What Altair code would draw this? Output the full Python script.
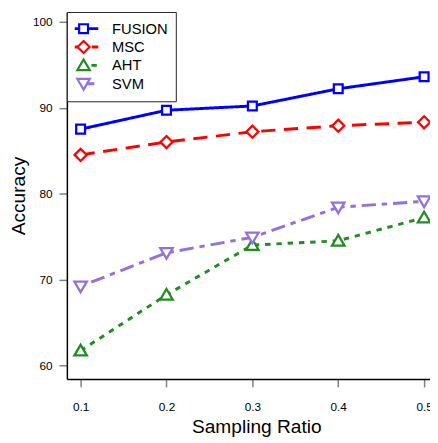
import altair as alt
import pandas as pd

ratios = [0.1, 0.2, 0.3, 0.4, 0.5]
series_names = ["FUSION", "MSC", "AHT", "SVM"]
fusion = [87.5, 89.7, 90.2, 92.2, 93.6]
msc = [84.5, 86.0, 87.2, 87.9, 88.3]
aht = [61.7, 68.2, 74.0, 74.5, 77.2]
svm = [69.2, 73.1, 74.9, 78.4, 79.1]
y_ticks = [60, 70, 80, 90, 100]

colors = ["#0000FF", "#FF0000", "#228B22", "#9370DB"]
dashes = [[1, 0], [14.5, 8.7], [5.5, 6], [5.5, 6, 14.5, 6]]
shapes = [
    "M-0.6,-0.6L0.6,-0.6L0.6,0.6L-0.6,0.6Z",
    "M-0.82,0L0,-0.82L0.82,0L0,0.82Z",
    "M0,-0.8L0.85,0.65L-0.85,0.65Z",
    "M0,0.8L0.85,-0.65L-0.85,-0.65Z",
]
marker_names = [n + " " for n in series_names]

rows = []
for name, vals in zip(series_names, [fusion, msc, aht, svm]):
    for r, v in zip(ratios, vals):
        rows.append({"ratio": r, "acc": v, "series": name, "marker": name + " "})
df = pd.DataFrame(rows)

FONT = "Liberation Sans"

x = alt.X(
    "ratio:Q",
    scale=alt.Scale(domain=[0.084, 0.50686], nice=False, zero=False),
    axis=alt.Axis(values=ratios, format=".1f", title="Sampling Ratio",
                  labelPadding=15, titlePadding=5, titleX=193),
)
y = alt.Y(
    "acc:Q",
    scale=alt.Scale(domain=[58.4, 101.143], nice=False, zero=False),
    axis=alt.Axis(values=y_ticks, title="Accuracy", labelPadding=7, titlePadding=4),
)

common_leg = dict(
    title=None, orient="none", legendX=0, legendY=0,
    symbolSize=225, labelFontSize=15, labelFont=FONT, labelOffset=20,
    padding=8, rowPadding=0.7, clipHeight=18,
)
leg1 = alt.Legend(symbolType="M-2,0L2,0", symbolStrokeWidth=2.9, labelColor="black",
                  strokeColor="#222222", fillColor="white", **common_leg)
leg2 = alt.Legend(symbolStrokeWidth=2.2, labelOpacity=0, **common_leg)

lines = alt.Chart(df).mark_line(strokeWidth=3, strokeJoin="round").encode(
    x=x, y=y,
    color=alt.Color("series:N", scale=alt.Scale(domain=series_names, range=colors), legend=leg1),
    strokeDash=alt.StrokeDash("series:N", scale=alt.Scale(domain=series_names, range=dashes), legend=leg1),
)

points = alt.Chart(df).mark_point(filled=False, fill="white", strokeWidth=2.3, size=225, opacity=1).encode(
    x=x, y=y,
    stroke=alt.Stroke("marker:N", scale=alt.Scale(domain=marker_names, range=colors), legend=leg2),
    shape=alt.Shape("marker:N", scale=alt.Scale(domain=marker_names, range=shapes), legend=leg2),
)

chart = alt.layer(lines, points).properties(
    width=370, height=374,
    autosize=alt.AutoSizeParams(type="none"),
    padding={"left": 60, "top": 0, "right": 0, "bottom": 55},
    background="white",
).configure_view(strokeWidth=0).configure_axis(
    grid=False,
    labelFont=FONT, labelFontSize=12, labelColor="#000000",
    titleFont=FONT, titleFontSize=19.5, titleFontWeight="normal", titleColor="#000000",
    domainColor="#000000", domainWidth=1.5,
    tickColor="#7f7f7f", tickWidth=1.5, tickSize=8,
)

chart.save("out.html", embed_options={"renderer": "svg", "actions": False})
